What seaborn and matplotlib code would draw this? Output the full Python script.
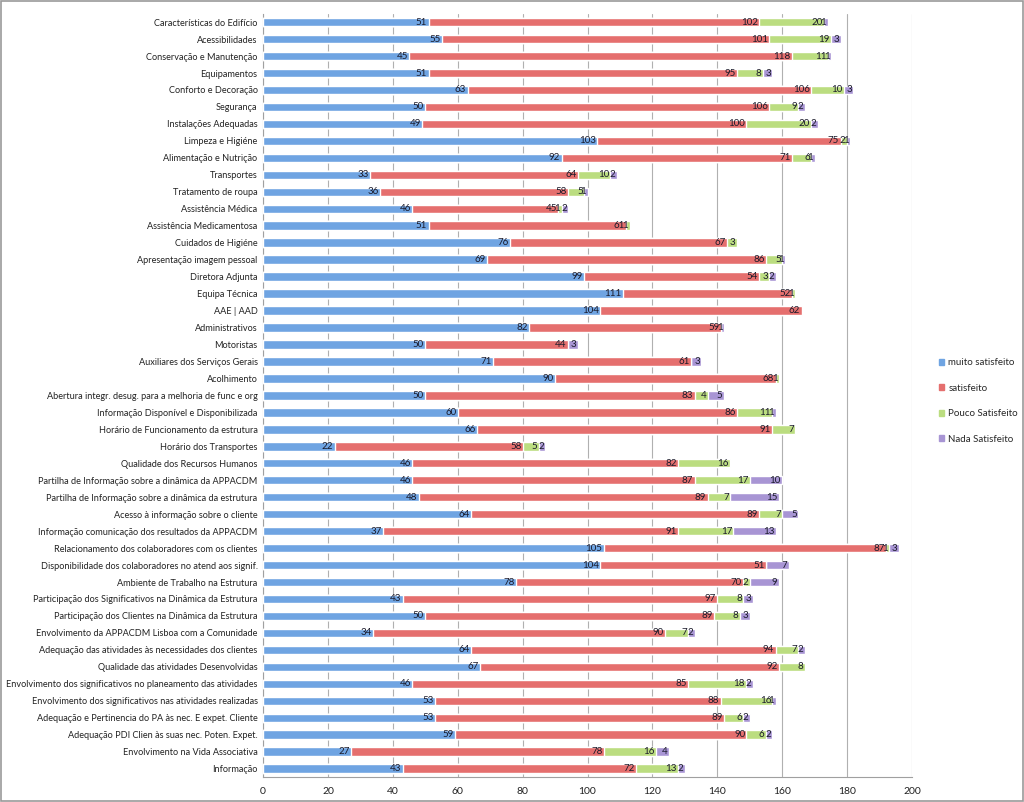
import numpy as np
import pandas as pd
import seaborn as sns
from matplotlib import pyplot as plt
from matplotlib.patches import Patch

categories = [
    'Características do Edifício', 'Acessibilidades', 'Conservação e Manutenção',
    'Equipamentos', 'Conforto e Decoração', 'Segurança', 'Instalações Adequadas',
    'Limpeza e Higiéne', 'Alimentação e Nutrição', 'Transportes', 'Tratamento de roupa',
    'Assistência Médica', 'Assistência Medicamentosa', 'Cuidados de Higiéne',
    'Apresentação imagem pessoal', 'Diretora Adjunta', 'Equipa Técnica', 'AAE | AAD',
    'Administrativos', 'Motoristas', 'Auxiliares dos Serviços Gerais', 'Acolhimento',
    'Abertura integr. desug. para a melhoria de func e org',
    'Informação Disponível e Disponibilizada', 'Horário de Funcionamento da estrutura',
    'Horário dos Transportes', 'Qualidade dos Recursos Humanos',
    'Partilha de Informação sobre a dinâmica da APPACDM',
    'Partilha de Informação sobre a dinâmica da estrutura',
    'Acesso à informação sobre o cliente', 'Informação comunicação dos resultados da APPACDM',
    'Relacionamento dos colaboradores com os clientes',
    'Disponibilidade dos colaboradores no atend aos signif.',
    'Ambiente de Trabalho na Estrutura', 'Participação dos Significativos na Dinâmica da Estrutura',
    'Participação dos Clientes na Dinâmica da Estrutura',
    'Envolvimento da APPACDM Lisboa com a Comunidade',
    'Adequação das atividades às necessidades dos clientes',
    'Qualidade das atividades Desenvolvidas',
    'Envolvimento dos significativos no planeamento das atividades',
    'Envolvimento dos significativos nas atividades realizadas',
    'Adequação e Pertinencia do PA às nec. E expet. Cliente',
    'Adequação PDI Clien às suas nec. Poten. Expet.',
    'Envolvimento na Vida Associativa', 'Informação',
]
muito = [51, 55, 45, 51, 63, 50, 49, 103, 92, 33, 36, 46, 51, 76, 69, 99, 111, 104, 82, 50,
         71, 90, 50, 60, 66, 22, 46, 46, 48, 64, 37, 105, 104, 78, 43, 50, 34, 64, 67, 46,
         53, 53, 59, 27, 43]
satisfeito = [102, 101, 118, 95, 106, 106, 100, 75, 71, 64, 58, 45, 61, 67, 86, 54, 52, 62,
              59, 44, 61, 68, 83, 86, 91, 58, 82, 87, 89, 89, 91, 87, 51, 70, 97, 89, 90, 94,
              92, 85, 88, 89, 90, 78, 72]
pouco = [20, 19, 11, 8, 10, 9, 20, 2, 6, 10, 5, 1, 1, 3, 5, 3, 1, 0, 0, 0, 0, 1, 4, 11, 7,
         5, 16, 17, 7, 7, 17, 1, 0, 2, 8, 8, 7, 7, 8, 18, 16, 6, 6, 16, 13]
nada = [1, 3, 1, 3, 3, 2, 2, 1, 1, 2, 1, 2, 0, 0, 1, 2, 0, 0, 1, 3, 3, 0, 5, 1, 0, 2, 0,
        10, 15, 5, 13, 3, 7, 9, 3, 3, 2, 2, 0, 2, 1, 2, 2, 4, 2]

series = ['muito satisfeito', 'satisfeito', 'Pouco Satisfeito', 'Nada Satisfeito']
colors = ['#6FA4E2', '#E56F6E', '#BBDD80', '#A895D4']

df = pd.DataFrame({'cat': categories, 'muito satisfeito': muito, 'satisfeito': satisfeito,
                   'Pouco Satisfeito': pouco, 'Nada Satisfeito': nada})
cum = df[series].cumsum(axis=1)

sns.set_style('white')
plt.rcParams['font.family'] = ['Lato', 'DejaVu Sans']

fig = plt.figure(figsize=(10.24, 8.02), dpi=100)
ax = fig.add_axes([0.257, 0.031, 0.6335, 0.952])

# stacked bars: draw cumulative totals from the outermost inwards
for s, c in list(zip(series, colors))[::-1]:
    sns.barplot(x=cum[s], y=df['cat'], color=c, orient='h', width=0.5,
                saturation=1, ax=ax, zorder=3)

# value labels at the end of each segment
for i in range(len(df)):
    for s in series:
        v = df[s].iloc[i]
        if v == 0:
            continue
        ax.text(cum[s].iloc[i] - 0.4, i, str(v), ha='right', va='center',
                fontsize=7, color='#1a1a2a', zorder=4)

ax.set_xlim(0, 200)
ax.set_xticks(np.arange(0, 201, 20))
ax.set_xlabel('')
ax.set_ylabel('')
ax.xaxis.grid(True, color='#b0b0b0', linewidth=0.8, zorder=0)
ax.set_axisbelow(True)
for sp in ['top', 'right']:
    ax.spines[sp].set_visible(False)
ax.spines['left'].set_color('#a0a0a0')
ax.spines['bottom'].set_color('#a0a0a0')
ax.tick_params(axis='y', labelsize=6.6, length=0, pad=4, colors='#222222')
ax.tick_params(axis='x', labelsize=7.5, colors='#222222')
ax.set_ylim(len(df) - 0.5, -0.5)

handles = [Patch(color=c, label=s) for s, c in zip(series, colors)]
fig.legend(handles=handles, loc='center left', bbox_to_anchor=(0.908, 0.5),
           frameon=False, fontsize=7, handlelength=0.6, handleheight=0.6,
           labelspacing=1.7, handletextpad=0.4)

fig.patches.append(plt.Rectangle((0.001, 0.001), 0.998, 0.998, transform=fig.transFigure,
                                 fill=False, edgecolor='#999999', linewidth=1.2))
fig.savefig('out.png', dpi=100)
